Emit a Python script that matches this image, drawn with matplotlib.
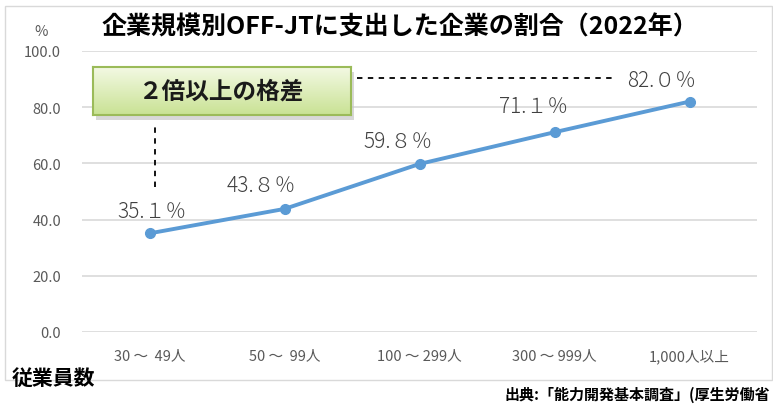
import numpy as np
import matplotlib
matplotlib.use("Agg")
from matplotlib import pyplot as plt
from matplotlib.patches import Rectangle
from matplotlib.colors import LinearSegmentedColormap

plt.rcParams['font.family'] = ['Noto Sans CJK JP', 'DejaVu Sans']

# データ
categories = ["30 ～  49人", "50 ～  99人", "100 ～ 299人", "300 ～ 999人", "1,000人以上"]
values = [35.1, 43.8, 59.8, 71.1, 82.0]
value_labels = ["35.１％", "43.８％", "59.８％", "71.１％", "82.０％"]
label_offsets = [(2, 22), (-23, 24), (-21, 23), (-21, 26), (-28, 22)]  # px
y_ticks = [0, 20, 40, 60, 80, 100]

fig = plt.figure(figsize=(7.73, 4.06), dpi=100)

# 外枠
fig.patches.append(Rectangle((5 / 773, 1 - 381 / 406), 767 / 773, 374 / 406,
                             transform=fig.transFigure, fill=False,
                             edgecolor="#d9d9d9", lw=1.0))

ax = fig.add_axes([82 / 773, 1 - 333 / 406, 675 / 773, 281 / 406])
x = np.arange(len(categories))
ax.plot(x, values, color="#5B9BD5", lw=2.8, marker="o", ms=7, zorder=3)

for xi, v, lab, off in zip(x, values, value_labels, label_offsets):
    ax.annotate(lab, (xi, v), xytext=(off[0] * 0.72, off[1] * 0.72),
                textcoords="offset points", ha="center", va="center",
                fontsize=15, color="#404040", fontweight="light")

ax.set_xlim(-0.5, len(categories) - 0.5)
ax.set_ylim(0, 100)
ax.set_yticks(y_ticks)
ax.set_yticklabels([f"{t:.1f}" for t in y_ticks])
ax.set_xticks(x)
ax.set_xticklabels(categories)
ax.grid(axis="y", color="#d9d9d9", lw=1.2)
ax.set_axisbelow(True)
for s in ax.spines.values():
    s.set_visible(False)
ax.tick_params(axis="both", length=0, colors="#595959", labelsize=10.5)
ax.tick_params(axis="y", pad=15)
ax.tick_params(axis="x", pad=12)

# 点線
ax.plot([0.041, 0.041], [51.6, 73.0], color="black", lw=1.3, ls=(0, (3, 3)))
ax.plot([1.537, 3.463], [90.4, 90.4], color="black", lw=1.3, ls=(0, (3, 3)))

# 「2倍以上の格差」ボックス
bx, by, bw, bh = 93 / 773, 1 - 116 / 406, 258 / 773, 48 / 406
shadow = Rectangle((bx + 3 / 773, by - 5 / 406), bw, bh, transform=fig.transFigure,
                   facecolor="#c8c8c8", edgecolor="none", alpha=0.7, zorder=2)
fig.patches.append(shadow)
bax = fig.add_axes([bx, by, bw, bh])
bax.set_zorder(5)
cmap = LinearSegmentedColormap.from_list("g", ["#f3f9e3", "#c9e294"])
bax.imshow(np.linspace(0, 1, 100).reshape(-1, 1), aspect="auto", cmap=cmap,
           extent=[0, 1, 0, 1])
bax.set_xticks([])
bax.set_yticks([])
for s in bax.spines.values():
    s.set_color("#9bbb59")
    s.set_linewidth(1.5)
bax.text(0.5, 0.5, "２倍以上の格差", ha="center", va="center", fontsize=17,
         fontweight="bold", color="#1a1a1a", transform=bax.transAxes)

# テキスト
fig.text(400 / 773, 1 - 27 / 406, "企業規模別OFF-JTに支出した企業の割合（2022年）",
         ha="center", va="center", fontsize=18, fontweight="bold")
fig.text(41 / 773, 1 - 32 / 406, "%", ha="center", va="center", fontsize=10.5,
         color="#595959")
fig.text(12 / 773, 1 - 378 / 406, "従業員数", ha="left", va="center", fontsize=15,
         fontweight="bold")
fig.text(770 / 773, 1 - 395 / 406, "出典:「能力開発基本調査」(厚生労働省", ha="right",
         va="center", fontsize=10.8, fontweight="bold")

fig.savefig("out.png", dpi=100)
